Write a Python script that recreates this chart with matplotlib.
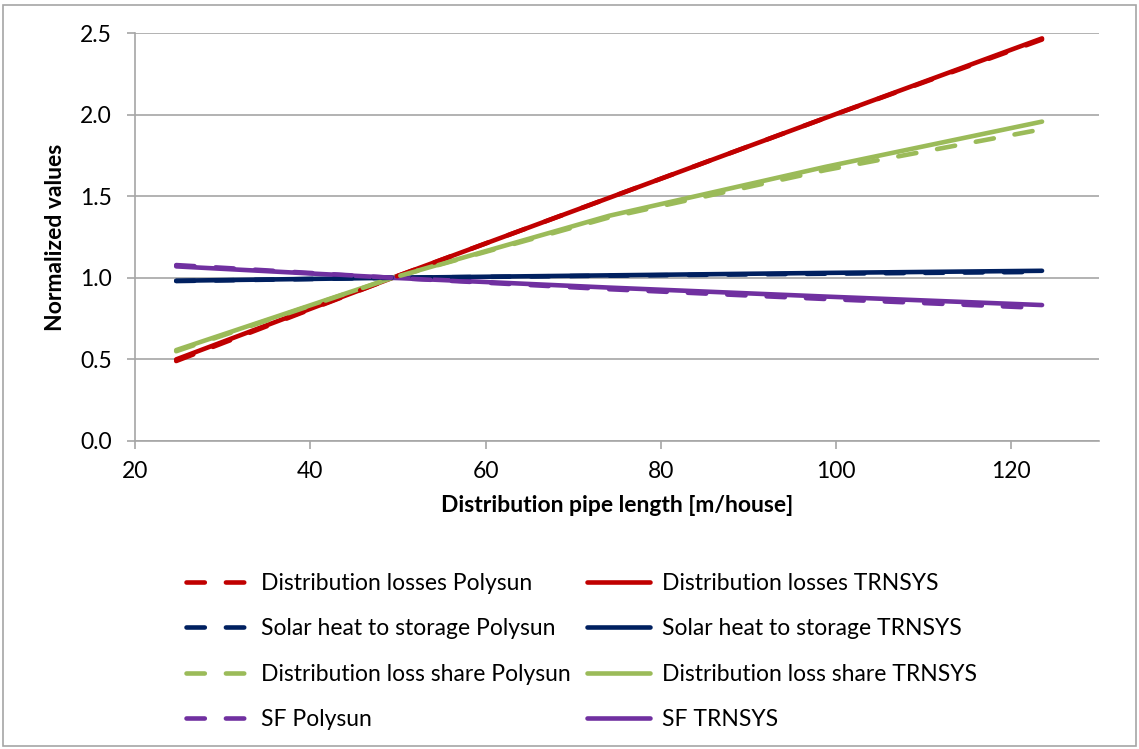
import matplotlib.pyplot as plt
from matplotlib.patches import Rectangle

# pipe length per house and normalized results
pipe_length = [24.7, 49.4, 74.1, 98.8, 123.5]

losses_polysun = [0.49, 1.0, 1.49, 1.98, 2.46]
losses_trnsys = [0.50, 1.0, 1.49, 1.98, 2.467]
heat_polysun = [0.98, 1.0, 1.013, 1.025, 1.036]
heat_trnsys = [0.982, 1.0, 1.015, 1.03, 1.043]
share_polysun = [0.55, 1.0, 1.37, 1.66, 1.91]
share_trnsys = [0.557, 1.0, 1.38, 1.68, 1.957]
sf_polysun = [1.078, 1.0, 0.93, 0.87, 0.815]
sf_trnsys = [1.07, 1.0, 0.94, 0.885, 0.833]

series = [
    ("Distribution losses Polysun", losses_polysun, "#c00000", True),
    ("Distribution losses TRNSYS", losses_trnsys, "#c00000", False),
    ("Solar heat to storage Polysun", heat_polysun, "#002060", True),
    ("Solar heat to storage TRNSYS", heat_trnsys, "#002060", False),
    ("Distribution loss share Polysun", share_polysun, "#9bbb59", True),
    ("Distribution loss share TRNSYS", share_trnsys, "#9bbb59", False),
    ("SF Polysun", sf_polysun, "#7030a0", True),
    ("SF TRNSYS", sf_trnsys, "#7030a0", False),
]

plt.rcParams['font.family'] = ['Lato', 'DejaVu Sans']
fs = 16.5

fig = plt.figure(figsize=(11.39, 7.49), dpi=100)
ax = fig.add_axes([135 / 1139, 1 - 441 / 749, (1099 - 135) / 1139, (441 - 33) / 749])

# solid lines first so dashed lie on top
handles = {}
for label, vals, color, dashed in series:
    if not dashed:
        ln, = ax.plot(pipe_length, vals, color=color, lw=3.3, solid_capstyle='round', label=label, zorder=2)
        handles[label] = ln
for label, vals, color, dashed in series:
    if dashed:
        ln, = ax.plot(pipe_length, vals, color=color, lw=3.3, dashes=(4.0, 4.6),
                      dash_capstyle='round', label=label, zorder=3)
        handles[label] = ln

ax.set_xlim(20, 130)
ax.set_ylim(0, 2.5)
ax.set_xticks([20, 40, 60, 80, 100, 120])
ax.set_yticks([0, 0.5, 1.0, 1.5, 2.0, 2.5])
ax.set_yticklabels(["0.0", "0.5", "1.0", "1.5", "2.0", "2.5"])
ax.grid(axis='y', color='#a6a6a6', lw=1.2)
ax.set_axisbelow(True)
for s in ['top', 'right']:
    ax.spines[s].set_visible(False)
for s in ['left', 'bottom']:
    ax.spines[s].set_color('#a6a6a6')
    ax.spines[s].set_linewidth(1.2)
ax.tick_params(colors='#a6a6a6', labelcolor='black', labelsize=fs, length=5.5, width=1.2)
ax.tick_params(axis='x', pad=9)
ax.tick_params(axis='y', pad=11)

ax.set_xlabel("Distribution pipe length [m/house]", fontsize=fs, fontweight='bold', labelpad=9)
ax.set_ylabel("Normalized values", fontsize=fs, fontweight='bold', labelpad=10)

order = [s[0] for s in series]
# two columns: Polysun left, TRNSYS right
labels = order[0::2] + order[1::2]
fig.legend([handles[l] for l in labels], labels, loc='upper left',
           bbox_to_anchor=(186 / 1139, 1 - 573 / 749), ncol=2, frameon=False,
           fontsize=fs, handlelength=2.75, handletextpad=0.52, columnspacing=0.7,
           labelspacing=1.06, borderaxespad=0, borderpad=0)

fig.patches.append(Rectangle((3 / 1139, 3 / 749), 1133 / 1139, 741 / 749, transform=fig.transFigure,
                             fill=False, edgecolor='#a6a6a6', lw=1.2))

fig.savefig("out.png", dpi=100)
